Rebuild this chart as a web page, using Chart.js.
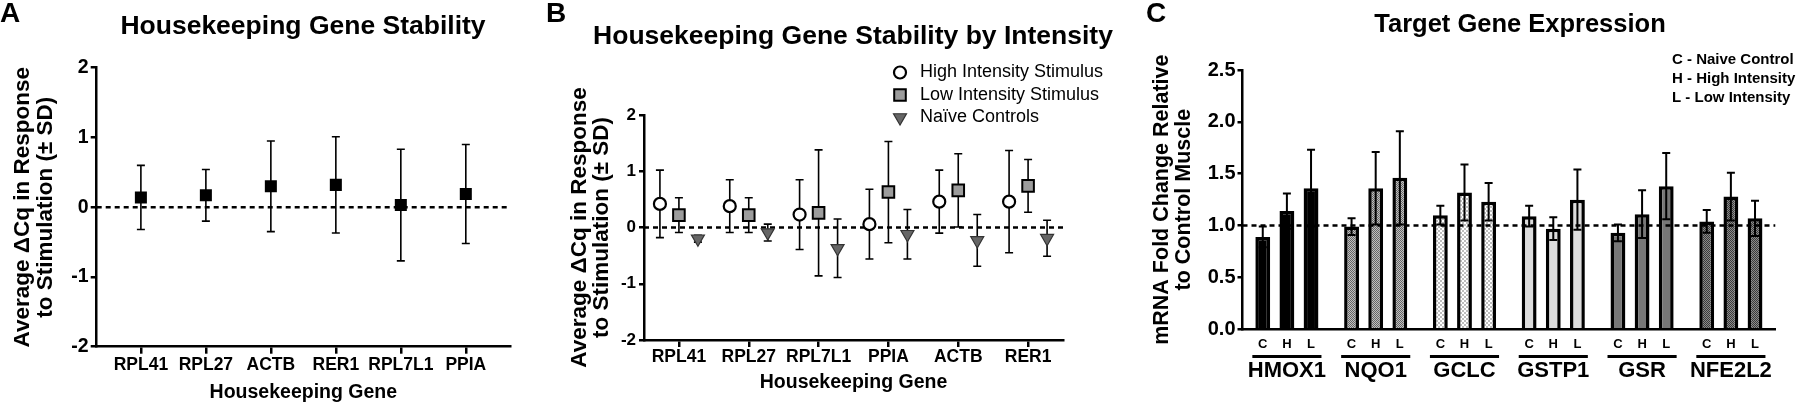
<!DOCTYPE html>
<html><head><meta charset="utf-8">
<script src="https://cdn.jsdelivr.net/npm/chart.js@4.4.1/dist/chart.umd.min.js"></script>
<style>
html,body{margin:0;padding:0;background:#fff;}
#wrap{position:relative;width:1800px;height:406px;overflow:hidden;font-family:'Liberation Sans',Arial,sans-serif;color:#000;}
canvas{position:absolute;top:0;}
.lbl{position:absolute;font-weight:bold;white-space:nowrap;line-height:1;}
</style></head><body>
<div id="wrap">
<canvas id="cA" width="540" height="406" style="left:0"></canvas>
<canvas id="cB" width="600" height="406" style="left:540px"></canvas>
<canvas id="cC" width="720" height="406" style="left:1080px"></canvas>
<div class="lbl" style="left:0;top:-1px;font-size:28px">A</div>
<div class="lbl" style="left:546px;top:-1px;font-size:28px">B</div>
<div class="lbl" style="left:1146px;top:-1px;font-size:28px">C</div>
<div class="lbl" style="left:103px;width:400px;text-align:center;top:12px;font-size:26.5px">Housekeeping Gene Stability</div>
<div class="lbl" style="left:553px;width:600px;text-align:center;top:22px;font-size:26.5px">Housekeeping Gene Stability by Intensity</div>
<div class="lbl" style="left:1370px;width:300px;text-align:center;top:11px;font-size:25.5px">Target Gene Expression</div>
</div>
<script>
// ---------- DATA ----------
const genesA = ['RPL41','RPL27','ACTB','RER1','RPL7L1','PPIA'];
const meanA  = [0.14, 0.17, 0.30, 0.32, 0.03, 0.19];
const sdA    = [0.46, 0.37, 0.65, 0.69, 0.80, 0.71];

const genesB   = ['RPL41','RPL27','RPL7L1','PPIA','ACTB','RER1'];
const seriesB  = ['High Intensity Stimulus','Low Intensity Stimulus','Naïve Controls'];
const highMean = [0.42, 0.38, 0.23, 0.06, 0.46, 0.46];
const highSD   = [0.60, 0.47, 0.62, 0.62, 0.56, 0.91];
const lowMean  = [0.22, 0.22, 0.26, 0.63, 0.66, 0.74];
const lowSD    = [0.31, 0.31, 1.12, 0.90, 0.65, 0.47];
const naiveMean= [-0.20, -0.09, -0.37, -0.12, -0.23, -0.19];
const naiveSD  = [0.06, 0.15, 0.52, 0.44, 0.46, 0.32];

const genesC    = ['HMOX1','NQO1','GCLC','GSTP1','GSR','NFE2L2'];
const groupsC   = ['C','H','L'];
const legendC   = ['C - Naive Control','H - High Intensity','L - Low Intensity'];
const ctrlMean  = [0.89, 0.99, 1.10, 1.09, 0.93, 1.04];
const ctrlSD    = [0.10, 0.08, 0.09, 0.10, 0.08, 0.11];
const highCMean = [1.14, 1.36, 1.32, 0.97, 1.11, 1.28];
const highCSD   = [0.17, 0.35, 0.27, 0.11, 0.23, 0.23];
const lowCMean  = [1.36, 1.46, 1.23, 1.25, 1.38, 1.07];
const lowCSD    = [0.37, 0.45, 0.18, 0.29, 0.32, 0.17];

const ticksA = {min:-2, max:2, step:1};
const ticksC = {min:0, max:2.5, step:0.5};
const refA = 0, refB = 0, refC = 1.0;

// ---------- STYLE ----------
Chart.defaults.font.family = "'Liberation Sans', Arial, sans-serif";
Chart.defaults.color = '#000';

function makePattern(size, draw){
  const c=document.createElement('canvas'); c.width=c.height=size;
  const g=c.getContext('2d'); draw(g); return g.createPattern(c,'repeat');
}
const patNQO1 = makePattern(2, g=>{g.fillStyle='#c0c0c0';g.fillRect(0,0,2,2);g.fillStyle='#666';g.fillRect(0,0,1,1);g.fillRect(1,1,1,1);});
const patGCLC = makePattern(4, g=>{g.fillStyle='#ffffff';g.fillRect(0,0,4,4);g.fillStyle='#bdbdbd';g.fillRect(0,0,2,2);g.fillRect(2,2,2,2);});
const patNFE  = makePattern(2, g=>{g.fillStyle='#8a8a8a';g.fillRect(0,0,2,2);g.fillStyle='#3a3a3a';g.fillRect(0,0,1,1);g.fillRect(1,1,1,1);});
const fillsC = ['#000000', patNQO1, patGCLC, '#dcdcdc', '#777777', patNFE];

// ---------- PLUGINS ----------
function drawRef(chart, o){
  const ctx=chart.ctx, a=chart.chartArea, y=chart.scales.y.getPixelForValue(o.value);
  ctx.save(); ctx.strokeStyle='#000'; ctx.lineWidth=o.lineWidth||2.5; ctx.setLineDash(o.dash||[5,4]);
  ctx.beginPath(); ctx.moveTo(a.left,y); ctx.lineTo(a.right,y); ctx.stroke(); ctx.restore();
}
const refLine = {
  id:'refLine',
  beforeDatasetsDraw(c,a,o){ if(!o.after) drawRef(c,o); },
  afterDatasetsDraw(c,a,o){ if(o.after) drawRef(c,o); }
};
function drawErr(chart, o){
  const ctx=chart.ctx, ys=chart.scales.y;
  ctx.save(); ctx.strokeStyle='#000'; ctx.lineWidth=o.lineWidth; ctx.setLineDash([]);
  chart.data.datasets.forEach((ds,i)=>{
    const meta=chart.getDatasetMeta(i);
    meta.data.forEach((el,j)=>{
      const raw=ds.data[j]; const m=(typeof raw==='number')?raw:raw.y; const sd=ds.sd[j];
      const x=el.x, y1=ys.getPixelForValue(m+sd), y2=ys.getPixelForValue(m-sd), h=o.cap/2;
      ctx.beginPath();
      ctx.moveTo(x,y1); ctx.lineTo(x,y2);
      ctx.moveTo(x-h,y1); ctx.lineTo(x+h,y1);
      ctx.moveTo(x-h,y2); ctx.lineTo(x+h,y2);
      ctx.stroke();
    });
  });
  ctx.restore();
}
const errBars = {
  id:'errBars',
  beforeDatasetsDraw(c,a,o){ if(!o.after) drawErr(c,o); },
  afterDatasetsDraw(c,a,o){ if(o.after) drawErr(c,o); }
};
const legendPts = {
  id:'legendPts',
  afterDraw(chart,a,o){
    const ctx=chart.ctx;
    chart.data.datasets.forEach((ds,i)=>{
      const y=o.y0+i*o.dy;
      ctx.save();
      ctx.fillStyle=ds.pointBackgroundColor; ctx.strokeStyle=ds.pointBorderColor; ctx.lineWidth=ds.pointBorderWidth;
      Chart.helpers.drawPoint(ctx,{pointStyle:ds.pointStyle,radius:ds.pointRadius,rotation:ds.pointRotation||0,borderWidth:ds.pointBorderWidth},o.x,y);
      ctx.fillStyle='#000'; ctx.font=o.font; ctx.textAlign='left'; ctx.textBaseline='middle';
      ctx.fillText(ds.label,o.tx,y);
      ctx.restore();
    });
  }
};
const legendText = {
  id:'legendText',
  afterDraw(chart,a,o){
    const ctx=chart.ctx; ctx.save(); ctx.fillStyle='#000'; ctx.font=o.font; ctx.textAlign='left'; ctx.textBaseline='middle';
    o.lines.forEach((t,i)=>ctx.fillText(t,o.x,o.y0+i*o.dy)); ctx.restore();
  }
};
const subLabels = {
  id:'subLabels',
  afterDraw(chart,a,o){
    const ctx=chart.ctx; ctx.save(); ctx.fillStyle='#000'; ctx.strokeStyle='#000';
    ctx.font=o.font; ctx.textAlign='center'; ctx.textBaseline='middle';
    const metas=chart.data.datasets.map((d,i)=>chart.getDatasetMeta(i));
    metas.forEach((m,i)=>m.data.forEach(el=>ctx.fillText(groupsC[i],el.x,o.letterY)));
    ctx.lineWidth=o.lineWidth;
    genesC.forEach((g,j)=>{
      const f=metas[0].data[j], l=metas[metas.length-1].data[j];
      ctx.beginPath(); ctx.moveTo(f.x-f.width/2-o.ext,o.lineY); ctx.lineTo(l.x+l.width/2+o.ext,o.lineY); ctx.stroke();
    });
    ctx.restore();
  }
};

const axisGrid = (len)=>({drawOnChartArea:false, drawTicks:true, tickLength:len, tickWidth:2.5, tickColor:'#000', color:'#000', lineWidth:2.5});
const axisBorder = {display:true, color:'#000', width:2.5};
const yTitle = (pad)=>({display:true, text:['Average ΔCq in Response','to Stimulation (± SD)'], color:'#000',
  font:{size:22.5, weight:'bold', lineHeight:1.0}, padding:{top:pad, bottom:0}});
const base = {responsive:false, animation:false, devicePixelRatio:1, events:[]};

// ---------- CHART A ----------
new Chart(document.getElementById('cA'), {
  type:'scatter',
  data:{datasets:[{
    label:'A', data:genesA.map((g,i)=>({x:i,y:meanA[i]})), sd:sdA,
    pointStyle:'rect', pointRadius:8.5, pointBackgroundColor:'#000', pointBorderColor:'#000', pointBorderWidth:0
  }]},
  options:Object.assign({}, base, {
    layout:{padding:{left:0, top:67.7, right:30, bottom:0}},
    plugins:{legend:{display:false}, tooltip:{enabled:false}, refLine:{value:refA}, errBars:{lineWidth:1.6, cap:8}},
    scales:{
      x:{type:'linear', min:-0.68, max:genesA.length-1+0.68,
        afterBuildTicks:s=>{s.ticks=genesA.map((g,i)=>({value:i}));},
        afterFit:s=>{s.height=59.3;},
        ticks:{callback:v=>genesA[v], font:{size:17.5, weight:'bold'}, color:'#000', padding:1, autoSkip:false, maxRotation:0},
        grid:axisGrid(7), border:axisBorder,
        title:{display:true, text:'Housekeeping Gene', color:'#000', font:{size:19.5, weight:'bold'}, padding:{top:0, bottom:1.6}}},
      y:{min:ticksA.min, max:ticksA.max,
        afterFit:s=>{s.width=96.7;},
        ticks:{stepSize:ticksA.step, font:{size:19.5, weight:'bold'}, color:'#000', padding:2},
        grid:axisGrid(6), border:axisBorder, title:yTitle(12)}
    }
  }),
  plugins:[refLine, errBars]
});

// ---------- CHART B ----------
const offB = [-0.272, 0, 0.272];
const mk = (mean,k)=>genesB.map((g,i)=>({x:i+offB[k], y:mean[i]}));
new Chart(document.getElementById('cB'), {
  type:'scatter',
  data:{datasets:[
    {label:seriesB[0], data:mk(highMean,0), sd:highSD, pointStyle:'circle', pointRadius:6, pointBackgroundColor:'#fff', pointBorderColor:'#000', pointBorderWidth:2.2},
    {label:seriesB[1], data:mk(lowMean,1), sd:lowSD, pointStyle:'rect', pointRadius:8.2, pointBackgroundColor:'#9c9c9c', pointBorderColor:'#000', pointBorderWidth:2},
    {label:seriesB[2], data:mk(naiveMean,2), sd:naiveSD, pointStyle:'triangle', pointRotation:180, pointRadius:7.5, pointBackgroundColor:'#666', pointBorderColor:'#333', pointBorderWidth:1.2}
  ]},
  options:Object.assign({}, base, {
    layout:{padding:{left:0, top:115, right:77, bottom:0}},
    plugins:{legend:{display:false}, tooltip:{enabled:false}, refLine:{value:refB}, errBars:{lineWidth:1.6, cap:8},
      legendPts:{x:360, tx:380, y0:72.5, dy:22.5, font:"18px 'Liberation Sans', Arial, sans-serif"}},
    scales:{
      x:{type:'linear', min:-0.5, max:genesB.length-0.5,
        afterBuildTicks:s=>{s.ticks=genesB.map((g,i)=>({value:i}));},
        afterFit:s=>{s.height=66;},
        ticks:{callback:v=>genesB[v], font:{size:17.5, weight:'bold'}, color:'#000', padding:0, autoSkip:false, maxRotation:0},
        grid:axisGrid(7), border:axisBorder,
        title:{display:true, text:'Housekeeping Gene', color:'#000', font:{size:19.5, weight:'bold'}, padding:{top:0, bottom:11.6}}},
      y:{min:ticksA.min, max:ticksA.max,
        afterFit:s=>{s.width=104;},
        ticks:{stepSize:ticksA.step, font:{size:17, weight:'bold'}, color:'#000', padding:3},
        grid:axisGrid(5), border:axisBorder, title:yTitle(28.5)}
    }
  }),
  plugins:[refLine, errBars, legendPts]
});

// ---------- CHART C ----------
const barOpts = {backgroundColor:fillsC, borderColor:'#000', borderWidth:3.5, categoryPercentage:0.8155, barPercentage:0.615};
new Chart(document.getElementById('cC'), {
  type:'bar',
  data:{labels:genesC, datasets:[
    Object.assign({label:groupsC[0], data:ctrlMean, sd:ctrlSD}, barOpts),
    Object.assign({label:groupsC[1], data:highCMean, sd:highCSD}, barOpts),
    Object.assign({label:groupsC[2], data:lowCMean, sd:lowCSD}, barOpts)
  ]},
  options:Object.assign({}, base, {
    layout:{padding:{left:0, top:70, right:2, bottom:0}},
    plugins:{legend:{display:false}, tooltip:{enabled:false},
      refLine:{value:refC, after:true}, errBars:{lineWidth:2, cap:8, after:true},
      legendText:{lines:legendC, x:592, y0:60, dy:19, font:"bold 15px 'Liberation Sans', Arial, sans-serif"},
      subLabels:{font:"bold 13px 'Liberation Sans', Arial, sans-serif", letterY:344, lineY:356.5, lineWidth:2.8, ext:3}},
    scales:{
      x:{afterFit:s=>{s.height=76.7;},
        ticks:{font:{size:22, weight:'bold'}, color:'#000', padding:28, autoSkip:false, maxRotation:0},
        grid:{display:true, drawOnChartArea:false, drawTicks:false}, border:axisBorder},
      y:{min:ticksC.min, max:ticksC.max,
        afterFit:s=>{s.width=162.5;},
        ticks:{stepSize:ticksC.step, callback:v=>v.toFixed(1), font:{size:20, weight:'bold'}, color:'#000', padding:2},
        grid:axisGrid(5), border:axisBorder,
        title:{display:true, text:['mRNA Fold Change Relative','to Control Muscle'], color:'#000',
          font:{size:21.5, weight:'bold', lineHeight:1.05}, padding:{top:70.7, bottom:0}}}
    }
  }),
  plugins:[refLine, errBars, legendText, subLabels]
});
</script>
</body></html>
